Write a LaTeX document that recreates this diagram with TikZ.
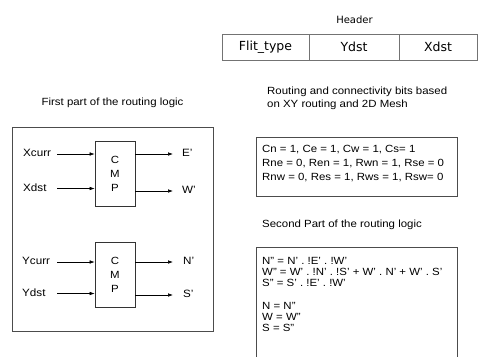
\documentclass[tikz,border=0pt]{standalone}
\usepackage{fontspec}
\setmainfont[FakeStretch=1.1]{Liberation Sans}
\newfontfamily\headfont{DejaVu Sans}
\usetikzlibrary{arrows.meta, positioning, calc}

\begin{document}
\begin{tikzpicture}[
    x=1pt, y=-1pt,
    frame/.style={draw=black!70, line width=0.9pt, inner sep=0pt},
    cmpbox/.style={draw=black!80, line width=0.7pt, minimum width=40pt, minimum height=65pt, inner sep=0pt, align=center, font=\fontsize{10.4}{14}\selectfont},
    cell/.style={draw=black!55, line width=0.8pt, minimum height=26pt, inner sep=0pt, font=\headfont\fontsize{12.5}{14}\selectfont},
    lbl/.style={inner sep=0pt, anchor=west, font=\fontsize{10.6}{13}\selectfont},
    title/.style={inner sep=0pt, align=left, anchor=west, font=\fontsize{10.4}{13}\selectfont},
    note/.style={inner sep=0pt, align=left, anchor=west, font=\fontsize{10.4}{14}\selectfont},
    arrow/.style={-{Latex[length=5pt, width=3.6pt]}, line width=0.6pt}
]
\useasboundingbox (0,0) rectangle (478,356);

% header
\node[inner sep=0pt, font=\headfont\fontsize{10}{12}\selectfont] (header) at (354.5,20) {Header};
\node[cell, minimum width=87pt] (flit) at (265.5,47) {Flit\_type};
\node[cell, minimum width=90pt] (ydst) at (354,47) {Ydst};
\node[cell, minimum width=78pt] (xdst) at (438,47) {Xdst};

% first part
\node[inner sep=0pt, font=\fontsize{10.4}{13}\selectfont] (firsttitle) at (112.5,103) {First part of the routing logic};
\node[frame, minimum width=201pt, minimum height=204pt] (firstbox) at (112.5,229) {};
\node[cmpbox] (cmpx) at (115,173.5) {C\\M\\P};
\node[cmpbox] (cmpy) at (115,274.5) {C\\M\\P};

\node[lbl] (xcurr) at (23,153) {Xcurr};
\node[lbl] (xdstin) at (23,188) {Xdst};
\node[lbl] (ycurr) at (22,261) {Ycurr};
\node[lbl] (ydstin) at (22,293) {Ydst};
\node[lbl] (eout) at (182,153) {E'};
\node[lbl] (wout) at (182,190) {W'};
\node[lbl] (nout) at (183,261) {N'};
\node[lbl] (sout) at (183,294) {S'};

\coordinate (xcurrs) at (57,154);
\coordinate (xdsts) at (57,188.5);
\coordinate (ycurrs) at (57,262);
\coordinate (ydsts) at (57,293.5);
\coordinate (eend) at (173,154);
\coordinate (wend) at (173,191);
\coordinate (nend) at (173,262);
\coordinate (send) at (173,295);

\draw[arrow] (xcurrs) -- (xcurrs -| cmpx.west);
\draw[arrow] (xdsts) -- (xdsts -| cmpx.west);
\draw[arrow] (ycurrs) -- (ycurrs -| cmpy.west);
\draw[arrow] (ydsts) -- (ydsts -| cmpy.west);
\draw[arrow] (eend -| cmpx.east) -- (eend);
\draw[arrow] (wend -| cmpx.east) -- (wend);
\draw[arrow] (nend -| cmpy.east) -- (nend);
\draw[arrow] (send -| cmpy.east) -- (send);

% routing bits
\node[title] (bitstitle) at (267,98.5) {Routing and connectivity bits based\\on XY routing and 2D Mesh};
\node[frame, minimum width=201pt, minimum height=59pt, anchor=north west] (bitsbox) at (256,137) {};
\node[note] (bits) at (262,164) {Cn = 1, Ce = 1, Cw = 1, Cs= 1\\Rne = 0, Ren = 1, Rwn = 1, Rse = 0\\Rnw = 0, Res = 1, Rws = 1, Rsw= 0};

% second part
\node[title] (secondtitle) at (262,225) {Second Part of the routing logic};
\begin{scope}
\clip (0,0) rectangle (478,356);
\node[frame, minimum width=201pt, minimum height=140pt, anchor=north west] (logicbox) at (256,247) {};
\end{scope}
\node[note, font=\fontsize{10.4}{11}\selectfont] (logic) at (262,294) {N'' = N' . !E' . !W'\\W'' = W' . !N' . !S' + W' . N' + W' . S'\\S'' = S' . !E' . !W'\\[12pt]N = N''\\W = W''\\S = S''};
\end{tikzpicture}
\end{document}
